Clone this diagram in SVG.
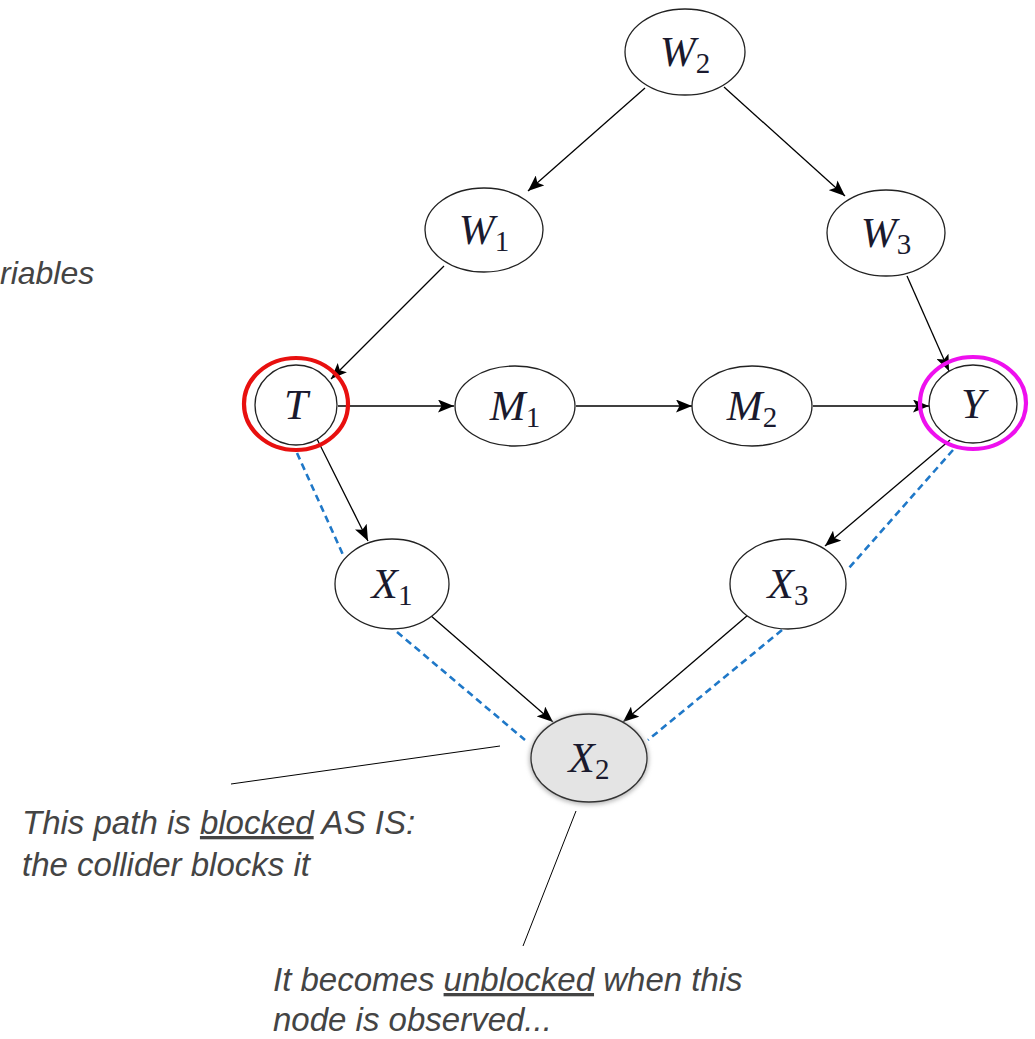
<svg xmlns="http://www.w3.org/2000/svg" width="1035" height="1039" viewBox="0 0 1035 1039">
  <defs>
    <marker id="arrow" markerUnits="userSpaceOnUse" markerWidth="17" markerHeight="13" refX="16" refY="6.5" orient="auto">
      <path d="M0,0 L16,6.5 L0,13 L3.5,6.5 Z" fill="#000"/>
    </marker>
    <filter id="soft" x="-20%" y="-20%" width="140%" height="140%">
      <feGaussianBlur stdDeviation="2"/>
    </filter>
    <style>
      .node ellipse.n { fill: #fff; stroke: #222; stroke-width: 1.3; }
      .lbl { font-family: "Liberation Serif", "DejaVu Serif", serif; font-size: 43px; fill: #1a1a2e; }
      .lbl .v { font-style: italic; }
      .lbl .s { font-size: 29px; }
      .edge { stroke: #000; stroke-width: 1.3; fill: none; marker-end: url(#arrow); }
      .path { stroke: #1f78c8; stroke-width: 2.6; stroke-dasharray: 7 4.5; fill: none; }
      .note { font-family: "Liberation Sans", Arial, sans-serif; font-style: italic; font-size: 33px; fill: #444; }
      .note.side { font-size: 32px; }
      .lead { stroke: #000; stroke-width: 1; fill: none; }
    </style>
  </defs>

  <rect width="1035" height="1039" fill="#fff"/>

  <!-- connectors -->
  <g id="connectors">
    <line class="edge" x1="645" y1="88" x2="528" y2="191"/>
    <line class="edge" x1="724" y1="87" x2="845" y2="196"/>
    <line class="edge" x1="444" y1="266" x2="331" y2="379"/>
    <line class="edge" x1="907" y1="276" x2="949" y2="371"/>
    <line class="edge" x1="338" y1="406" x2="454" y2="406"/>
    <line class="edge" x1="576" y1="406" x2="692" y2="406"/>
    <line class="edge" x1="813" y1="406" x2="929" y2="406"/>
    <line class="edge" x1="316" y1="437" x2="368" y2="541"/>
    <line class="edge" x1="950" y1="440" x2="825" y2="546"/>
    <line class="edge" x1="430" y1="615" x2="553" y2="722"/>
    <line class="edge" x1="748" y1="615" x2="623" y2="722"/>

    <!-- highlighted backdoor path through the collider -->
    <line class="path" x1="297" y1="453" x2="344" y2="557"/>
    <line class="path" x1="397" y1="632" x2="525" y2="740"/>
    <line class="path" x1="953" y1="450" x2="849" y2="568"/>
    <line class="path" x1="782" y1="630" x2="648" y2="740"/>

    <!-- annotation leaders -->
    <line class="lead" x1="231" y1="784" x2="500" y2="746"/>
    <line class="lead" x1="576" y1="811" x2="523" y2="946"/>
  </g>

  <!-- nodes -->
  <g id="node-W2" class="node">
    <ellipse class="n" cx="685" cy="52" rx="60" ry="43"/>
    <text class="lbl" x="685" y="66" text-anchor="middle"><tspan class="v">W</tspan><tspan class="s" dy="7">2</tspan></text>
  </g>
  <g id="node-W1" class="node">
    <ellipse class="n" cx="484" cy="230" rx="59" ry="42"/>
    <text class="lbl" x="484" y="244" text-anchor="middle"><tspan class="v">W</tspan><tspan class="s" dy="7">1</tspan></text>
  </g>
  <g id="node-W3" class="node">
    <ellipse class="n" cx="886" cy="233" rx="59" ry="43"/>
    <text class="lbl" x="886" y="247" text-anchor="middle"><tspan class="v">W</tspan><tspan class="s" dy="7">3</tspan></text>
  </g>
  <g id="node-T" class="node">
    <ellipse class="n" cx="296" cy="405" rx="41" ry="40"/>
    <ellipse cx="296" cy="404" rx="52" ry="46" fill="none" stroke="#e8100f" stroke-width="4.2"/>
    <text class="lbl" x="296" y="419" text-anchor="middle"><tspan class="v">T</tspan></text>
  </g>
  <g id="node-M1" class="node">
    <ellipse class="n" cx="515" cy="406" rx="60" ry="40"/>
    <text class="lbl" x="515" y="420" text-anchor="middle"><tspan class="v">M</tspan><tspan class="s" dy="7">1</tspan></text>
  </g>
  <g id="node-M2" class="node">
    <ellipse class="n" cx="752" cy="406" rx="60" ry="40"/>
    <text class="lbl" x="752" y="420" text-anchor="middle"><tspan class="v">M</tspan><tspan class="s" dy="7">2</tspan></text>
  </g>
  <g id="node-Y" class="node">
    <ellipse class="n" cx="973" cy="404" rx="44" ry="39"/>
    <ellipse cx="973" cy="403" rx="53" ry="46" fill="none" stroke="#ee10ee" stroke-width="4.2"/>
    <text class="lbl" x="973" y="418" text-anchor="middle"><tspan class="v">Y</tspan></text>
  </g>
  <g id="node-X1" class="node">
    <ellipse class="n" cx="392" cy="584" rx="57" ry="45"/>
    <text class="lbl" x="392" y="598" text-anchor="middle"><tspan class="v">X</tspan><tspan class="s" dy="7">1</tspan></text>
  </g>
  <g id="node-X3" class="node">
    <ellipse class="n" cx="788" cy="584" rx="58" ry="45"/>
    <text class="lbl" x="788" y="598" text-anchor="middle"><tspan class="v">X</tspan><tspan class="s" dy="7">3</tspan></text>
  </g>
  <g id="node-X2" class="node">
    <ellipse cx="589" cy="759" rx="60" ry="46" fill="#bbb" filter="url(#soft)"/>
    <ellipse cx="589" cy="758" rx="58" ry="44" fill="#e4e4e4" stroke="#333" stroke-width="1.3"/>
    <text class="lbl" x="589" y="772" text-anchor="middle"><tspan class="v">X</tspan><tspan class="s" dy="7">2</tspan></text>
  </g>

  <!-- notes -->
  <g id="notes">
    <text class="note side" x="0" y="284">riables</text>

    <text class="note" x="22" y="834">This path is <tspan text-decoration="underline">blocked</tspan> AS IS:</text>
    <text class="note" x="22" y="876">the collider blocks it</text>

    <text class="note" x="273" y="991">It becomes <tspan text-decoration="underline">unblocked</tspan> when this</text>
    <text class="note" x="273" y="1031">node is observed...</text>
  </g>
</svg>
